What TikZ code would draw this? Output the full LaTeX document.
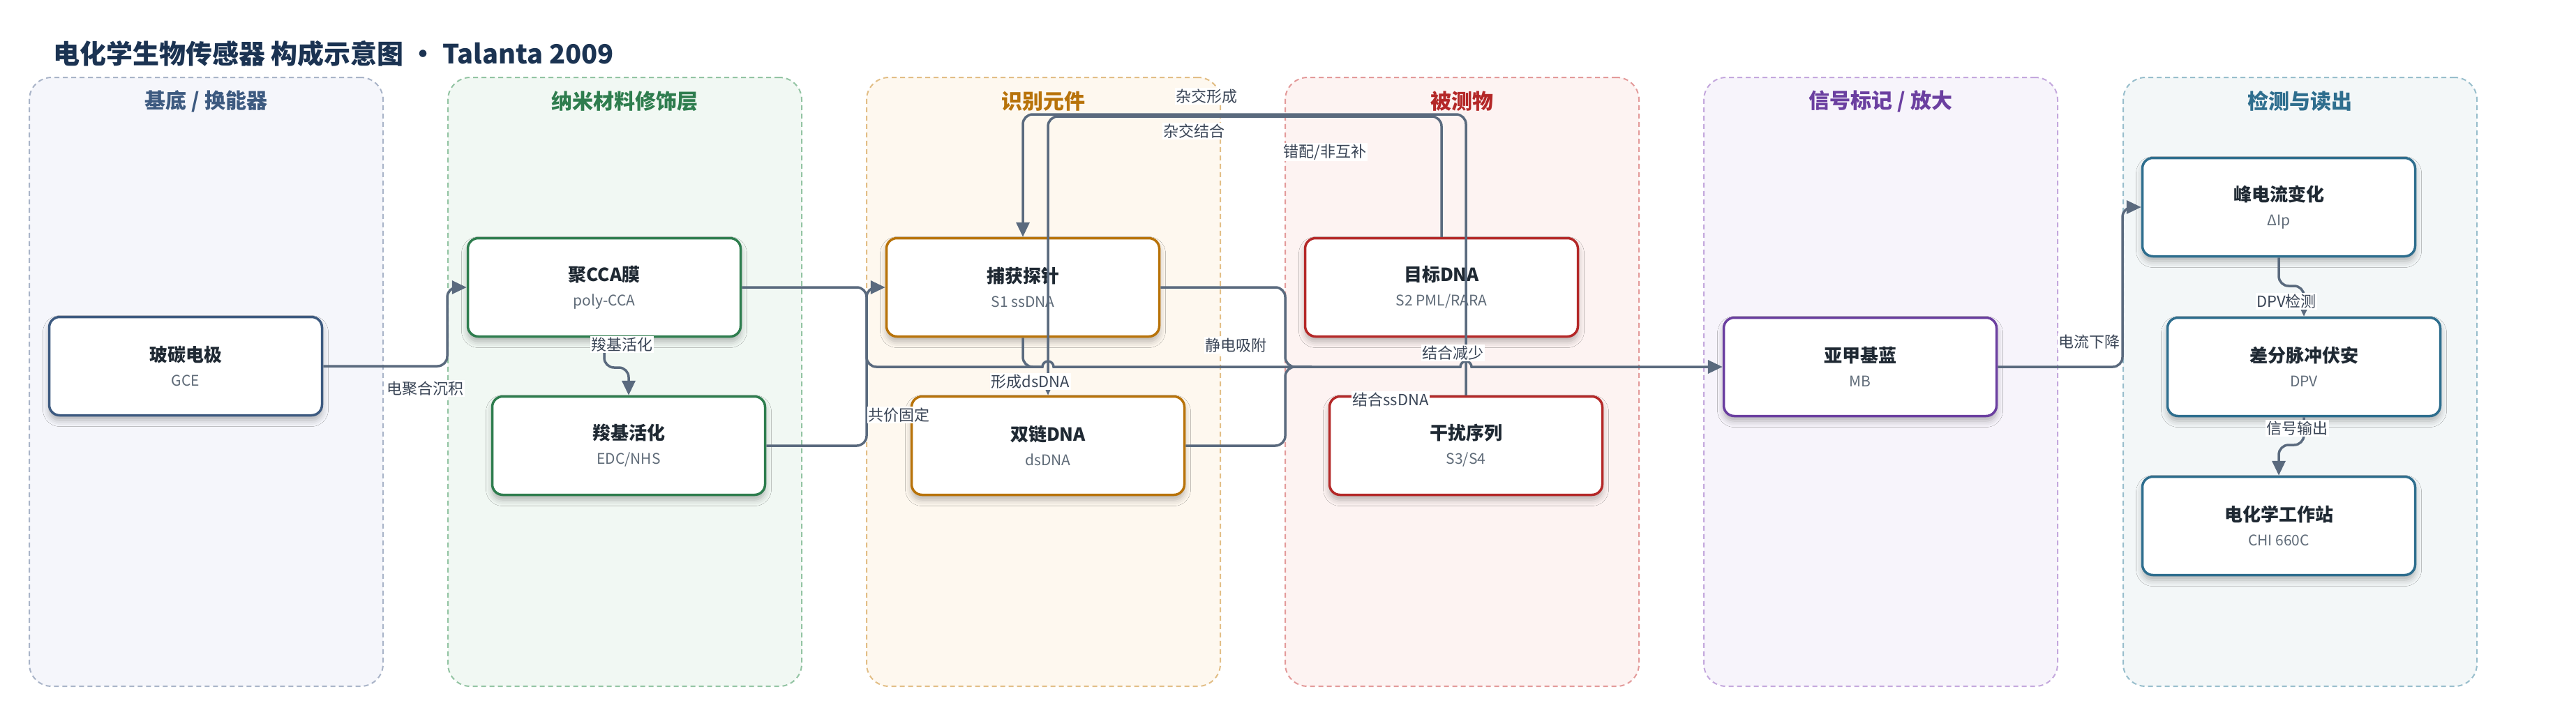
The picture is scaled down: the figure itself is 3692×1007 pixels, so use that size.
\documentclass[tikz,border=0pt]{standalone}
\usepackage{fontspec}
\setmainfont{Noto Sans CJK SC}
\usetikzlibrary{arrows.meta,shadows.blur}
\definecolor{edgec}{HTML}{5A6A7E}
\definecolor{txtc}{HTML}{1F2933}
\definecolor{subc}{HTML}{5F6B78}
\definecolor{lblc}{HTML}{3A4556}
\definecolor{headc}{HTML}{1B3352}
\definecolor{cA}{HTML}{3D5A80}
\definecolor{cB}{HTML}{2E7D4E}
\definecolor{cC}{HTML}{B8730A}
\definecolor{cD}{HTML}{B42828}
\definecolor{cE}{HTML}{6B3FA0}
\definecolor{cF}{HTML}{2E6E8E}
\definecolor{fA}{HTML}{F5F6FB}
\definecolor{fB}{HTML}{F1F8F3}
\definecolor{fC}{HTML}{FEF8EF}
\definecolor{fD}{HTML}{FDF3F2}
\definecolor{fE}{HTML}{F7F4FB}
\definecolor{fF}{HTML}{F3F7F8}
\definecolor{bA}{HTML}{A9B4C8}
\definecolor{bB}{HTML}{93C4A3}
\definecolor{bC}{HTML}{E2BE86}
\definecolor{bD}{HTML}{E39A9A}
\definecolor{bE}{HTML}{C4A8DD}
\definecolor{bF}{HTML}{98BECC}
\tikzset{
  lanebox/.style 2 args={draw=#1, fill=#2, line width=2pt, dash pattern=on 7pt off 5pt,
    rounded corners=32pt, minimum width=507pt, minimum height=873pt, inner sep=0pt},
  lanetitle/.style={font=\fontsize{30}{36}\selectfont\bfseries, text=#1},
  nbox/.style={draw=#1, line width=3.5pt, fill=white, rounded corners=15pt,
    minimum width=391pt, minimum height=141pt, align=center, text=subc,
    font=\fontsize{21}{35}\selectfont,
    blur shadow={shadow xshift=0pt, shadow yshift=-7pt, shadow blur radius=9pt, shadow opacity=28}},
  conn/.style={draw=edgec, line width=3.5pt, rounded corners=14pt,
    -{Triangle[length=21pt,width=19pt]}},
  plain/.style={draw=edgec, line width=3.5pt, rounded corners=14pt},
  elabel/.style={fill=white, inner sep=1.5pt, text=lblc, font=\fontsize{22}{26}\selectfont}
}
\newcommand{\ntl}[2]{{\fontsize{26}{35}\selectfont\bfseries\color{txtc}#1}\\#2}
\begin{document}
\begin{tikzpicture}[x=1pt,y=-1pt]
\useasboundingbox (0,0) rectangle (3692,1007);

% title
\node[anchor=west, text=headc, font=\fontsize{38}{44}\selectfont\bfseries, inner sep=0pt] (title) at (76,77)
  {电化学生物传感器 构成示意图 · Talanta 2009};

% lanes
\node[lanebox={bA}{fA}] (lane1) at (295.5,547.5) {};
\node[lanebox={bB}{fB}] (lane2) at (895.5,547.5) {};
\node[lanebox={bC}{fC}] (lane3) at (1495.5,547.5) {};
\node[lanebox={bD}{fD}] (lane4) at (2095.5,547.5) {};
\node[lanebox={bE}{fE}] (lane5) at (2695.5,547.5) {};
\node[lanebox={bF}{fF}] (lane6) at (3296.5,547.5) {};

\node[lanetitle=cA] (lt1) at (295.5,145) {基底 / 换能器};
\node[lanetitle=cB] (lt2) at (895.5,145) {纳米材料修饰层};
\node[lanetitle=cC] (lt3) at (1495.5,145) {识别元件};
\node[lanetitle=cD] (lt4) at (2095.5,145) {被测物};
\node[lanetitle=cE] (lt5) at (2695.5,145) {信号标记 / 放大};
\node[lanetitle=cF] (lt6) at (3296.5,145) {检测与读出};

% nodes
\node[nbox=cA] (gce)  at (266,525)  {\ntl{玻碳电极}{GCE}};
\node[nbox=cB] (pcca) at (866,412)  {\ntl{聚CCA膜}{poly-CCA}};
\node[nbox=cB] (edc)  at (901,639)  {\ntl{羧基活化}{EDC/NHS}};
\node[nbox=cC] (s1)   at (1466,412) {\ntl{捕获探针}{S1 ssDNA}};
\node[nbox=cC] (ds)   at (1502,639) {\ntl{双链DNA}{dsDNA}};
\node[nbox=cD] (s2)   at (2066,412) {\ntl{目标DNA}{S2 PML/RARA}};
\node[nbox=cD] (s34)  at (2101,639) {\ntl{干扰序列}{S3/S4}};
\node[nbox=cE] (mb)   at (2666,526) {\ntl{亚甲基蓝}{MB}};
\node[nbox=cF] (dip)  at (3266,297) {\ntl{峰电流变化}{ΔIp}};
\node[nbox=cF] (dpv)  at (3302,526) {\ntl{差分脉冲伏安}{DPV}};
\node[nbox=cF] (chi)  at (3266,754) {\ntl{电化学工作站}{CHI 660C}};

\coordinate (j1) at (1494,526);
\coordinate (j2) at (1880,526);

% connectors
\draw[conn] (gce.east) -- (641,525) -- (641,412) -- (pcca.west);
\draw[conn] (pcca.south) -- (866,527) -- (901,527) -- (edc.north);
\draw[conn, sharp corners] (pcca.east) -- (1228,412)
  arc[start angle=270, end angle=360, radius=14] -- (1242,512)
  arc[start angle=180, end angle=90, radius=14] -- (1494,526)
  arc[start angle=180, end angle=360, radius=8] -- (2093,526)
  arc[start angle=180, end angle=360, radius=8] -- (mb.west);
\draw[conn] (edc.east) -- (1242,639) -- (1242,412) -- (s1.west);
\draw[plain] (s1.south) -- (1466,526) -- (j1);
\draw[plain] (s1.east) -- (1842,412) -- (1842,526) -- (j2);
\draw[plain] (ds.east) -- (1842,639) -- (1842,526) -- (j2);
\draw[conn] (s2.north) -- (2066,167) -- (1502,167) -- (ds.north);
\draw[conn] (s34.north) -- (2101,164) -- (1466,164) -- (s1.north);
\draw[conn] (mb.east) -- (3042,526) -- (3042,297) -- (dip.west);
\draw[conn] (dip.south) -- (3266,410) -- (3302,410) -- (dpv.north);
\draw[conn] (dpv.south) -- (3302,638) -- (3266,638) -- (chi.north);

% edge labels
\node[elabel] (l1)  at (609,557)  {电聚合沉积};
\node[elabel] (l2)  at (891,494)  {羧基活化};
\node[elabel] (l3)  at (1288,595) {共价固定};
\node[elabel] (l4)  at (1729,138) {杂交形成};
\node[elabel] (l5)  at (1711,188) {杂交结合};
\node[elabel] (l6)  at (1899,218) {错配/非互补};
\node[elabel] (l7)  at (1771,495) {静电吸附};
\node[elabel] (l8)  at (1477,547) {形成dsDNA};
\node[elabel] (l9)  at (2082,506) {结合减少};
\node[elabel] (l10) at (1993,573) {结合ssDNA};
\node[elabel] (l11) at (2994,490) {电流下降};
\node[elabel] (l12) at (3277,432) {DPV检测};
\node[elabel] (l13) at (3292,614) {信号输出};
\end{tikzpicture}
\end{document}
